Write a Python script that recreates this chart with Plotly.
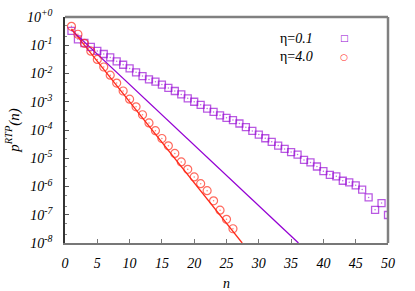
import plotly.graph_objects as go

# ---------------- data ----------------
n_sq = list(range(1, 51))
p_eta01 = [0.324, 0.162, 0.120, 0.0871, 0.0631, 0.0490, 0.0372, 0.0269, 0.0204, 0.0151,
           0.0110, 8.13e-3, 6.17e-3, 5.13e-3, 4.07e-3, 3.09e-3, 2.40e-3, 1.82e-3, 1.32e-3, 1.0e-3,
           7.76e-4, 5.75e-4, 4.37e-4, 3.31e-4, 2.69e-4, 2.24e-4, 1.70e-4, 1.26e-4, 9.3e-5, 6.9e-5,
           5.1e-5, 3.8e-5, 2.8e-5, 2.14e-5, 1.66e-5, 1.35e-5, 8.7e-6, 7.1e-6, 5.1e-6, 3.5e-6,
           2.6e-6, 2.3e-6, 1.6e-6, 1.4e-6, 1.1e-6, 7.8e-7, 4.1e-7, 1.5e-7, 2.6e-7, 9.8e-8]

n_ci = list(range(1, 27))
p_eta40 = [0.468, 0.245, 0.117, 0.0617, 0.0316, 0.0170, 8.7e-3, 4.57e-3, 2.40e-3, 1.23e-3,
           6.6e-4, 3.47e-4, 1.78e-4, 9.5e-5, 5.0e-5, 2.75e-5, 1.48e-5, 7.4e-6, 4.07e-6, 2.19e-6,
           1.26e-6, 7.1e-7, 3.1e-7, 1.45e-7, 6.9e-8, 3.2e-8]

# theory lines (straight on log scale): end points
n_th01 = [1, 36.14]
p_th01 = [0.35, 1e-8]
n_th40 = [1, 27.43]
p_th40 = [0.38, 1e-8]

x_ticks = [0, 5, 10, 15, 20, 25, 30, 35, 40, 45, 50]
y_exps = [0, -1, -2, -3, -4, -5, -6, -7, -8]
y_tick_text = ["+0", "-1", "-2", "-3", "-4", "-5", "-6", "-7", "-8"]

labels = ["η=<i>0.1</i>", "η=<i>4.0</i>"]

PURPLE = "#9400d3"
RED = "#ff2a1a"
FONT = "Liberation Serif, Times New Roman, serif"

fig = go.Figure()

fig.add_trace(go.Scatter(x=n_th01, y=p_th01, mode="lines",
                         line=dict(color=PURPLE, width=1.3), showlegend=False))
fig.add_trace(go.Scatter(x=n_th40, y=p_th40, mode="lines",
                         line=dict(color=RED, width=1.3), showlegend=False))
fig.add_trace(go.Scatter(x=n_sq, y=p_eta01, mode="markers",
                         marker=dict(symbol="square-open", size=7, color=PURPLE,
                                     opacity=0.65, line=dict(width=1.3, color=PURPLE)),
                         showlegend=False))
fig.add_trace(go.Scatter(x=n_sq, y=p_eta01, mode="markers",
                         marker=dict(symbol="circle", size=1.5, color=PURPLE, opacity=0.6),
                         showlegend=False))
fig.add_trace(go.Scatter(x=n_ci, y=p_eta40, mode="markers",
                         marker=dict(symbol="circle-open", size=8, color=RED,
                                     opacity=0.7, line=dict(width=1.2, color=RED)),
                         showlegend=False))
fig.add_trace(go.Scatter(x=n_ci, y=p_eta40, mode="markers",
                         marker=dict(symbol="circle", size=1.5, color=RED, opacity=0.6),
                         showlegend=False))

# legend built from annotations (text left, sample right, as in the reference)
leg_y = [0.905, 0.825]
glyphs = ["□", "○"]
cols = [PURPLE, RED]
for lab, yy, g, c in zip(labels, leg_y, glyphs, cols):
    fig.add_annotation(xref="paper", yref="paper", x=0.775, y=yy, text=lab,
                       showarrow=False, xanchor="right", yanchor="middle",
                       font=dict(family=FONT, size=14, color="black"))
    fig.add_annotation(xref="paper", yref="paper", x=0.865, y=yy, text=g,
                       showarrow=False, xanchor="center", yanchor="middle",
                       font=dict(family="DejaVu Sans", size=9, color=c))

# top and right borders (gray)
fig.add_shape(type="line", xref="paper", yref="paper", x0=0, x1=1, y0=1, y1=1,
              line=dict(color="#808080", width=2.5))
fig.add_shape(type="line", xref="paper", yref="paper", x0=1, x1=1, y0=0, y1=1,
              line=dict(color="#808080", width=2.5))

fig.update_xaxes(range=[0, 50], tickvals=x_ticks, automargin=False,
                 ticktext=[f"<i>{v}</i>" for v in x_ticks],
                 ticks="inside", ticklen=4, tickcolor="#777", tickwidth=1,
                 showline=True, linecolor="#777", linewidth=2, mirror=False,
                 showgrid=False, zeroline=False, ticklabelstandoff=6,
                 tickfont=dict(family=FONT, size=14, color="black"),
                 title=dict(text="<i>n</i>", font=dict(family=FONT, size=14, color="black"),
                            standoff=12))
fig.update_yaxes(type="log", range=[-8, 0], automargin=False,
                 tickvals=[10 ** e for e in y_exps],
                 ticktext=[f"<i>10<sup>{t}</sup></i>" for t in y_tick_text],
                 ticks="inside", ticklen=4, tickcolor="#555", tickwidth=1,
                 minor=dict(ticks="inside", ticklen=2, tickcolor="#888",
                            tickvals=[m * 10 ** e for e in range(-8, 0) for m in (2, 5)]),
                 showline=True, linecolor="#333", linewidth=1.5, mirror=False,
                 showgrid=False, zeroline=False, ticklabelstandoff=8,
                 tickfont=dict(family=FONT, size=14, color="black"),
                 title=dict(text="<i>p<sup>RTP</sup>(n)</i>",
                            font=dict(family=FONT, size=15, color="black"),
                            standoff=4))

fig.update_layout(width=415, height=291,
                  margin=dict(l=64.5, r=27, t=17, b=48.3),
                  paper_bgcolor="white", plot_bgcolor="white",
                  showlegend=False)

fig.write_html("out.html", config={"displayModeBar": False},
               post_script="document.body.style.margin='0';document.body.style.padding='0';")
